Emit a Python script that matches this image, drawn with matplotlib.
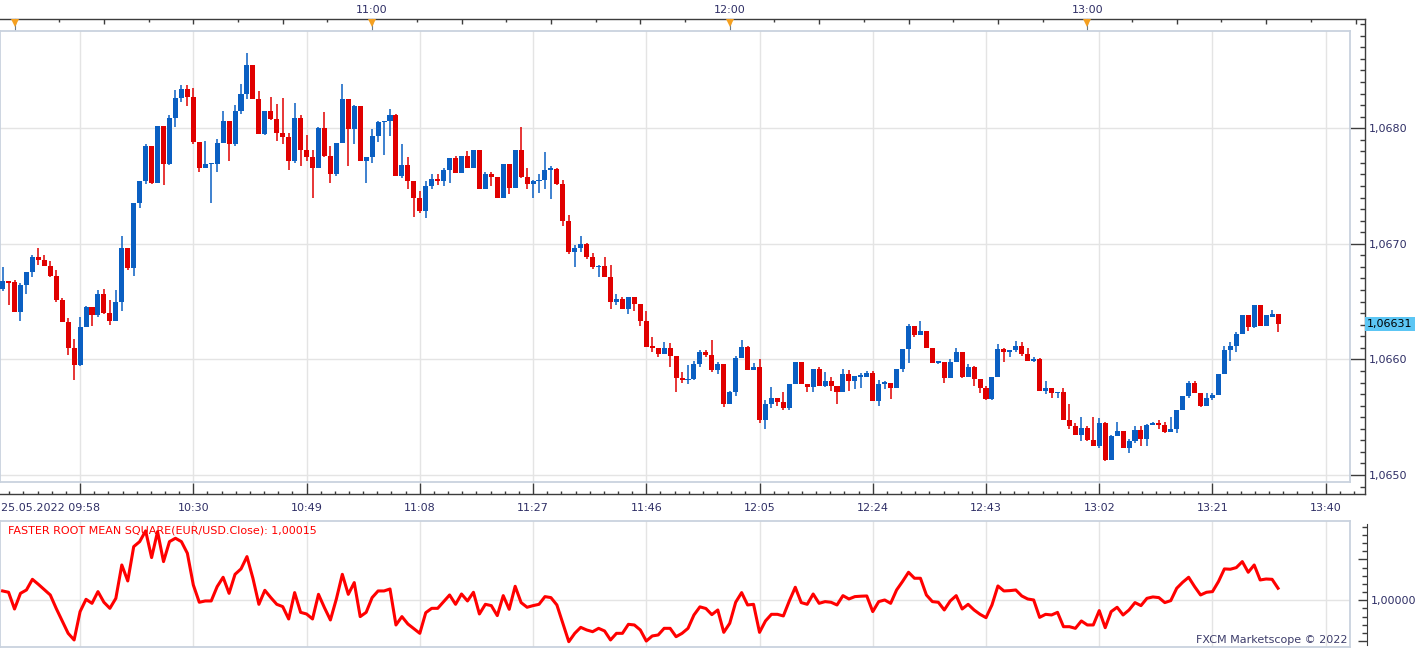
import matplotlib
matplotlib.use("Agg")
import matplotlib.pyplot as plt
import matplotlib.transforms as mtransforms
from matplotlib.ticker import FixedLocator, MultipleLocator, FuncFormatter, NullFormatter
import numpy as np

# ---------------- data (EUR/USD 1-minute bars, 25.05.2022 09:58 ... 13:32) ----------------
opens = [
    1.06661, 1.06668, 1.06667, 1.06641, 1.06664, 1.06676, 1.06689, 1.06686, 1.06681, 1.06672,
    1.06651, 1.06632, 1.06610, 1.06595, 1.06628, 1.06645, 1.06638, 1.06657, 1.06640, 1.06633,
    1.06650, 1.06696, 1.06679, 1.06735, 1.06754, 1.06785, 1.06753, 1.06802, 1.06769, 1.06809,
    1.06826, 1.06834, 1.06827, 1.06788, 1.06766, 1.06769, 1.06769, 1.06787, 1.06806, 1.06786,
    1.06815, 1.06830, 1.06855, 1.06825, 1.06795, 1.06815, 1.06808, 1.06796, 1.06792, 1.06772,
    1.06809, 1.06781, 1.06775, 1.06766, 1.06800, 1.06776, 1.06760, 1.06787, 1.06825, 1.06799,
    1.06819, 1.06772, 1.06775, 1.06793, 1.06805, 1.06806, 1.06811, 1.06759, 1.06768, 1.06754,
    1.06740, 1.06728, 1.06750, 1.06756, 1.06754, 1.06764, 1.06774, 1.06761, 1.06776, 1.06766,
    1.06781, 1.06747, 1.06760, 1.06758, 1.06740, 1.06769, 1.06748, 1.06781, 1.06758, 1.06752,
    1.06754, 1.06755, 1.06764, 1.06765, 1.06752, 1.06720, 1.06693, 1.06696, 1.06700, 1.06689,
    1.06680, 1.06681, 1.06671, 1.06650, 1.06652, 1.06644, 1.06654, 1.06648, 1.06633, 1.06611,
    1.06610, 1.06605, 1.06610, 1.06603, 1.06584, 1.06582, 1.06583, 1.06596, 1.06606, 1.06604,
    1.06591, 1.06596, 1.06561, 1.06572, 1.06601, 1.06611, 1.06591, 1.06593, 1.06548, 1.06561,
    1.06567, 1.06563, 1.06558, 1.06579, 1.06598, 1.06579, 1.06576, 1.06592, 1.06577, 1.06581,
    1.06577, 1.06572, 1.06587, 1.06581, 1.06585, 1.06585, 1.06588, 1.06564, 1.06579, 1.06580,
    1.06575, 1.06592, 1.06609, 1.06629, 1.06621, 1.06625, 1.06610, 1.06597, 1.06598, 1.06584,
    1.06598, 1.06606, 1.06585, 1.06593, 1.06583, 1.06575, 1.06566, 1.06585, 1.06609, 1.06606,
    1.06608, 1.06612, 1.06605, 1.06599, 1.06600, 1.06573, 1.06575, 1.06571, 1.06572, 1.06548,
    1.06542, 1.06535, 1.06541, 1.06530, 1.06525, 1.06545, 1.06513, 1.06534, 1.06538, 1.06523,
    1.06529, 1.06539, 1.06531, 1.06543, 1.06545, 1.06543, 1.06537, 1.06540, 1.06556, 1.06568,
    1.06580, 1.06571, 1.06560, 1.06567, 1.06569, 1.06587, 1.06608, 1.06612, 1.06622, 1.06638,
    1.06628, 1.06647, 1.06629, 1.06637, 1.06639,
]
highs = [
    1.06680, 1.06668, 1.06669, 1.06666, 1.06676, 1.06690, 1.06696, 1.06690, 1.06685, 1.06677,
    1.06653, 1.06636, 1.06618, 1.06637, 1.06646, 1.06645, 1.06660, 1.06661, 1.06651, 1.06660,
    1.06707, 1.06696, 1.06735, 1.06754, 1.06786, 1.06785, 1.06802, 1.06802, 1.06811, 1.06833,
    1.06837, 1.06837, 1.06835, 1.06788, 1.06789, 1.06770, 1.06791, 1.06815, 1.06806, 1.06820,
    1.06838, 1.06865, 1.06855, 1.06832, 1.06815, 1.06827, 1.06821, 1.06826, 1.06796, 1.06822,
    1.06811, 1.06794, 1.06781, 1.06801, 1.06814, 1.06785, 1.06787, 1.06838, 1.06825, 1.06820,
    1.06819, 1.06775, 1.06799, 1.06806, 1.06806, 1.06817, 1.06812, 1.06786, 1.06775, 1.06754,
    1.06746, 1.06754, 1.06760, 1.06760, 1.06766, 1.06774, 1.06776, 1.06776, 1.06780, 1.06781,
    1.06781, 1.06762, 1.06762, 1.06758, 1.06769, 1.06769, 1.06781, 1.06801, 1.06766, 1.06755,
    1.06760, 1.06779, 1.06767, 1.06766, 1.06755, 1.06725, 1.06699, 1.06707, 1.06701, 1.06692,
    1.06682, 1.06689, 1.06682, 1.06657, 1.06654, 1.06654, 1.06654, 1.06648, 1.06642, 1.06619,
    1.06610, 1.06615, 1.06614, 1.06603, 1.06589, 1.06595, 1.06599, 1.06608, 1.06608, 1.06617,
    1.06598, 1.06596, 1.06573, 1.06603, 1.06617, 1.06612, 1.06597, 1.06600, 1.06565, 1.06576,
    1.06567, 1.06572, 1.06579, 1.06598, 1.06598, 1.06579, 1.06592, 1.06593, 1.06589, 1.06585,
    1.06577, 1.06592, 1.06591, 1.06586, 1.06588, 1.06590, 1.06590, 1.06582, 1.06581, 1.06580,
    1.06592, 1.06609, 1.06631, 1.06629, 1.06633, 1.06625, 1.06610, 1.06598, 1.06598, 1.06600,
    1.06610, 1.06606, 1.06596, 1.06594, 1.06583, 1.06577, 1.06585, 1.06613, 1.06610, 1.06608,
    1.06616, 1.06615, 1.06610, 1.06602, 1.06601, 1.06581, 1.06575, 1.06572, 1.06575, 1.06561,
    1.06545, 1.06550, 1.06542, 1.06550, 1.06549, 1.06546, 1.06535, 1.06546, 1.06538, 1.06531,
    1.06542, 1.06542, 1.06544, 1.06546, 1.06548, 1.06546, 1.06550, 1.06556, 1.06568, 1.06581,
    1.06581, 1.06571, 1.06571, 1.06571, 1.06587, 1.06612, 1.06615, 1.06624, 1.06638, 1.06638,
    1.06647, 1.06647, 1.06638, 1.06643, 1.06639,
]
lows = [
    1.06659, 1.06647, 1.06641, 1.06633, 1.06657, 1.06671, 1.06682, 1.06681, 1.06671, 1.06650,
    1.06632, 1.06604, 1.06582, 1.06594, 1.06628, 1.06629, 1.06637, 1.06639, 1.06630, 1.06633,
    1.06642, 1.06677, 1.06672, 1.06731, 1.06752, 1.06752, 1.06753, 1.06751, 1.06768, 1.06801,
    1.06823, 1.06819, 1.06786, 1.06762, 1.06766, 1.06735, 1.06762, 1.06787, 1.06772, 1.06785,
    1.06812, 1.06825, 1.06825, 1.06795, 1.06794, 1.06807, 1.06789, 1.06786, 1.06764, 1.06770,
    1.06767, 1.06772, 1.06740, 1.06766, 1.06775, 1.06753, 1.06759, 1.06787, 1.06767, 1.06786,
    1.06772, 1.06753, 1.06770, 1.06788, 1.06777, 1.06793, 1.06759, 1.06757, 1.06747, 1.06723,
    1.06727, 1.06722, 1.06747, 1.06751, 1.06750, 1.06753, 1.06761, 1.06761, 1.06766, 1.06766,
    1.06747, 1.06747, 1.06750, 1.06740, 1.06740, 1.06743, 1.06748, 1.06757, 1.06747, 1.06740,
    1.06744, 1.06747, 1.06739, 1.06751, 1.06715, 1.06691, 1.06680, 1.06693, 1.06687, 1.06678,
    1.06671, 1.06671, 1.06644, 1.06647, 1.06644, 1.06639, 1.06642, 1.06629, 1.06611, 1.06606,
    1.06602, 1.06605, 1.06593, 1.06572, 1.06580, 1.06579, 1.06582, 1.06593, 1.06602, 1.06589,
    1.06587, 1.06559, 1.06561, 1.06568, 1.06601, 1.06591, 1.06591, 1.06545, 1.06540, 1.06558,
    1.06560, 1.06556, 1.06556, 1.06579, 1.06579, 1.06572, 1.06572, 1.06577, 1.06576, 1.06573,
    1.06561, 1.06572, 1.06573, 1.06574, 1.06575, 1.06585, 1.06564, 1.06560, 1.06574, 1.06566,
    1.06575, 1.06589, 1.06597, 1.06619, 1.06621, 1.06610, 1.06597, 1.06596, 1.06580, 1.06584,
    1.06598, 1.06584, 1.06585, 1.06577, 1.06571, 1.06565, 1.06565, 1.06585, 1.06598, 1.06602,
    1.06606, 1.06603, 1.06599, 1.06598, 1.06573, 1.06570, 1.06567, 1.06567, 1.06548, 1.06540,
    1.06535, 1.06529, 1.06529, 1.06525, 1.06523, 1.06512, 1.06513, 1.06534, 1.06523, 1.06519,
    1.06528, 1.06525, 1.06525, 1.06543, 1.06540, 1.06536, 1.06537, 1.06536, 1.06556, 1.06567,
    1.06571, 1.06559, 1.06560, 1.06565, 1.06569, 1.06587, 1.06599, 1.06606, 1.06622, 1.06625,
    1.06627, 1.06629, 1.06629, 1.06637, 1.06624,
]
closes = [
    1.06668, 1.06666, 1.06641, 1.06664, 1.06676, 1.06689, 1.06686, 1.06681, 1.06672, 1.06651,
    1.06632, 1.06610, 1.06595, 1.06628, 1.06645, 1.06638, 1.06657, 1.06640, 1.06633, 1.06650,
    1.06696, 1.06679, 1.06735, 1.06754, 1.06785, 1.06753, 1.06802, 1.06769, 1.06809, 1.06826,
    1.06834, 1.06827, 1.06788, 1.06766, 1.06769, 1.06770, 1.06787, 1.06806, 1.06786, 1.06815,
    1.06830, 1.06855, 1.06825, 1.06795, 1.06815, 1.06808, 1.06796, 1.06792, 1.06772, 1.06809,
    1.06781, 1.06775, 1.06766, 1.06800, 1.06776, 1.06760, 1.06787, 1.06825, 1.06799, 1.06819,
    1.06772, 1.06775, 1.06793, 1.06805, 1.06806, 1.06811, 1.06759, 1.06768, 1.06754, 1.06740,
    1.06728, 1.06750, 1.06756, 1.06754, 1.06764, 1.06774, 1.06761, 1.06776, 1.06766, 1.06781,
    1.06747, 1.06760, 1.06758, 1.06740, 1.06769, 1.06748, 1.06781, 1.06758, 1.06752, 1.06754,
    1.06755, 1.06764, 1.06765, 1.06752, 1.06720, 1.06693, 1.06696, 1.06700, 1.06689, 1.06680,
    1.06681, 1.06671, 1.06650, 1.06652, 1.06644, 1.06654, 1.06648, 1.06633, 1.06611, 1.06610,
    1.06605, 1.06610, 1.06603, 1.06584, 1.06582, 1.06583, 1.06596, 1.06606, 1.06604, 1.06591,
    1.06596, 1.06561, 1.06572, 1.06601, 1.06611, 1.06591, 1.06593, 1.06548, 1.06561, 1.06567,
    1.06563, 1.06558, 1.06579, 1.06598, 1.06579, 1.06576, 1.06592, 1.06577, 1.06581, 1.06577,
    1.06572, 1.06587, 1.06581, 1.06586, 1.06586, 1.06588, 1.06564, 1.06579, 1.06580, 1.06575,
    1.06592, 1.06609, 1.06629, 1.06621, 1.06625, 1.06610, 1.06597, 1.06598, 1.06584, 1.06598,
    1.06606, 1.06585, 1.06593, 1.06583, 1.06575, 1.06566, 1.06585, 1.06609, 1.06606, 1.06608,
    1.06612, 1.06605, 1.06599, 1.06600, 1.06573, 1.06575, 1.06571, 1.06572, 1.06548, 1.06542,
    1.06535, 1.06541, 1.06530, 1.06525, 1.06545, 1.06513, 1.06534, 1.06538, 1.06523, 1.06529,
    1.06539, 1.06531, 1.06543, 1.06545, 1.06543, 1.06537, 1.06540, 1.06556, 1.06568, 1.06580,
    1.06571, 1.06560, 1.06567, 1.06569, 1.06587, 1.06608, 1.06612, 1.06622, 1.06638, 1.06628,
    1.06647, 1.06629, 1.06638, 1.06639, 1.06631,
]
rms = [
    1.000114, 1.000098, 0.999894, 1.000085, 1.000126, 1.000256, 1.000195, 1.000130, 1.000065, 0.999900,
    0.999750, 0.999597, 0.999516, 0.999862, 1.000012, 0.999963, 1.000106, 0.999976, 0.999902, 1.000024,
    1.000431, 1.000236, 1.000655, 1.000716, 1.000847, 1.000521, 1.000838, 1.000472, 1.000716, 1.000757,
    1.000716, 1.000574, 1.000187, 0.999976, 0.999992, 0.999992, 1.000167, 1.000281, 1.000085, 1.000317,
    1.000383, 1.000533, 1.000269, 0.999951, 1.000122, 1.000033, 0.999951, 0.999923, 0.999772, 1.000094,
    0.999853, 0.999833, 0.999772, 1.000073, 0.999910, 0.999760, 1.000016, 1.000317, 1.000073, 1.000216,
    0.999801, 0.999853, 1.000033, 1.000114, 1.000114, 1.000138, 0.999699, 0.999801, 0.999711, 0.999654,
    0.999597, 0.999849, 0.999902, 0.999902, 0.999984, 1.000065, 0.999951, 1.000077, 0.999992, 1.000098,
    0.999833, 0.999951, 0.999935, 0.999813, 1.000057, 0.999890, 1.000171, 0.999972, 0.999915, 0.999935,
    0.999951, 1.000045, 1.000033, 0.999943, 0.999720, 0.999495, 0.999597, 0.999670, 0.999638, 0.999617,
    0.999658, 0.999626, 0.999516, 0.999597, 0.999597, 0.999707, 0.999699, 0.999638, 0.999503, 0.999565,
    0.999577, 0.999658, 0.999658, 0.999556, 0.999597, 0.999658, 0.999821, 0.999920, 0.999900, 0.999825,
    0.999882, 0.999609, 0.999719, 0.999976, 1.000094, 0.999943, 0.999951, 0.999609, 0.999748, 0.999829,
    0.999829, 0.999809, 0.999992, 1.000159, 0.999972, 0.999951, 1.000077, 0.999963, 0.999984, 0.999976,
    0.999943, 1.000057, 1.000016, 1.000045, 1.000050, 1.000053, 0.999862, 0.999984, 1.000004, 0.999963,
    1.000126, 1.000230, 1.000342, 1.000269, 1.000269, 1.000065, 0.999984, 0.999976, 0.999882, 0.999992,
    1.000057, 0.999894, 0.999951, 0.999882, 0.999829, 0.999788, 0.999943, 1.000175, 1.000114, 1.000118,
    1.000126, 1.000053, 1.000016, 1.000004, 0.999792, 0.999829, 0.999821, 0.999853, 0.999678, 0.999678,
    0.999658, 0.999748, 0.999699, 0.999699, 0.999874, 0.999666, 0.999862, 0.999915, 0.999821, 0.999882,
    0.999972, 0.999935, 1.000024, 1.000041, 1.000033, 0.999972, 0.999996, 1.000147, 1.000220, 1.000281,
    1.000167, 1.000065, 1.000098, 1.000106, 1.000228, 1.000383, 1.000379, 1.000399, 1.000472, 1.000342,
    1.000431, 1.000248, 1.000260, 1.000256, 1.000147,
]

bottom_tick_idx = [13, 32, 51, 70, 89, 108, 127, 146, 165, 184, 203, 222]
bottom_tick_labels = ["25.05.2022 09:58", "10:30", "10:49", "11:08", "11:27", "11:46",
                      "12:05", "12:24", "12:43", "13:02", "13:21", "13:40"]
top_tick_idx = [62, 122, 182]
top_tick_labels = ["11:00", "12:00", "13:00"]
hour_marker_idx = [2, 62, 122, 182]
price_ticks = [1.0650, 1.0660, 1.0670, 1.0680]
last_price = 1.06631
indicator_ticks = [0.9995, 1.0000, 1.0005]
indicator_label = "FASTER ROOT MEAN SQUARE(EUR/USD.Close): 1,00015"
credit = "FXCM Marketscope \u00a9 2022"

# ---------------- styling / layout ----------------
BLUE = "#0a5fc2"
RED = "#e00000"
GRID = "#e4e4e4"
BOX = "#c9d2de"
AXC = "#3c3c3c"
TXT = "#2f2f66"
FS = 8
plt.rcParams["font.family"] = ["DejaVu Sans"]

W, H = 1423, 649
fig = plt.figure(figsize=(W / 100, H / 100), dpi=100)
fig.patch.set_facecolor("white")


def rect(x0, y0, x1, y1):
    return [x0 / W, 1 - y1 / H, (x1 - x0) / W, (y1 - y0) / H]


PX = 5.96      # pixels per bar
X0 = 2.6       # pixel position of the first bar


def xl(width_px):
    return (-X0 / PX, (width_px - X0) / PX)


PPY = 115600.0  # pixels per price unit (main panel)
YREF = 475.0    # pixel row of 1.0650


def pr(ypx):
    return 1.0650 + (YREF - ypx) / PPY


IPY = 81967.0   # pixels per unit (indicator panel)
IREF = 600.3    # pixel row of 1.00000


def iv(ypx):
    return 1.0 + (IREF - ypx) / IPY


PT = 0.72  # points per pixel

# ---------- frame of the main panel (time axes + price axis) ----------
axf = fig.add_axes(rect(0, 19, 1365, 494))
axf.patch.set_visible(False)
axf.set_xlim(*xl(1365))
axf.set_ylim(pr(494), pr(19))
axf.spines["left"].set_visible(False)
for s in ("top", "bottom", "right"):
    axf.spines[s].set_color(AXC)
    axf.spines[s].set_linewidth(1.0)
# bottom time axis
axf.xaxis.set_major_locator(FixedLocator(bottom_tick_idx))
axf.xaxis.set_major_formatter(NullFormatter())
axf.xaxis.set_minor_locator(FixedLocator(list(np.arange(13 - 2.375 * 5, 228, 2.375))))
axf.tick_params(axis="x", which="major", direction="in", length=11 * PT, width=1, color=AXC,
                top=False, bottom=True)
axf.tick_params(axis="x", which="minor", direction="in", length=3.5 * PT, width=1, color=AXC,
                top=False, bottom=True)
xt = axf.get_xaxis_transform()
for i, (k, lab) in enumerate(zip(bottom_tick_idx, bottom_tick_labels)):
    if i == 0:
        axf.text(1 / 1365, -14 / 475, lab, transform=axf.transAxes, ha="left", va="center",
                 fontsize=FS, color=TXT)
    else:
        axf.text(k, -14 / 475, lab, transform=xt, ha="center", va="center",
                 fontsize=FS, color=TXT)
# right price axis
axf.yaxis.tick_right()
axf.yaxis.set_major_locator(FixedLocator(price_ticks))
axf.yaxis.set_minor_locator(MultipleLocator(0.0001))
axf.yaxis.set_major_formatter(FuncFormatter(lambda v, p: f"{v:.4f}".replace(".", ",")))
axf.tick_params(axis="y", which="major", direction="in", length=15 * PT, width=1, color=AXC,
                labelsize=FS, labelcolor=TXT, pad=3, left=False, right=True)
axf.tick_params(axis="y", which="minor", direction="in", length=5 * PT, width=1, color=AXC,
                left=False, right=True)

# top time axis
axt = axf.twiny()
axt.set_xlim(*xl(1365))
for s in axt.spines.values():
    s.set_visible(False)
axt.xaxis.set_major_locator(FixedLocator(list(np.arange(2, 229, 15))))
axt.xaxis.set_minor_locator(FixedLocator(list(np.arange(9.5, 229, 15))))
lab_map = dict(zip(top_tick_idx, top_tick_labels))
axt.xaxis.set_major_formatter(FuncFormatter(lambda v, p: lab_map.get(int(round(v)), "")))
axt.tick_params(axis="x", which="major", direction="in", length=5 * PT, width=1, color=AXC,
                labelsize=FS, labelcolor=TXT, pad=3)
axt.tick_params(axis="x", which="minor", direction="in", length=3 * PT, width=1, color=AXC)
tt = axt.get_xaxis_transform()
for k in hour_marker_idx:
    axt.plot([k, k], [1.0, 1 - 12 / 475], color="#6a7a8a", lw=0.8, transform=tt, clip_on=False)
axt.plot(hour_marker_idx, [1 - 3.5 / 475] * len(hour_marker_idx), linestyle="none", marker="v",
         markersize=6, color="#f5a020", markeredgewidth=0, transform=tt, clip_on=False)

# last price box
bt = mtransforms.blended_transform_factory(axf.transAxes, axf.transData)
axf.text(1367 / 1365, last_price, f"{last_price:.5f}".replace(".", ","), transform=bt,
         ha="left", va="center", fontsize=FS, color="black",
         bbox=dict(boxstyle="square,pad=0.18", facecolor="#5cc6f4", edgecolor="none"))

# ---------- main candlestick panel ----------
ax = fig.add_axes(rect(0, 31, 1350, 482))
ax.set_xlim(*xl(1350))
ax.set_ylim(pr(482), pr(31))
for s in ax.spines.values():
    s.set_color(BOX)
    s.set_linewidth(1.3)
ax.set_xticks([])
ax.set_yticks([])
for k in bottom_tick_idx:
    ax.axvline(k, color=GRID, lw=1.0, zorder=0)
for p in price_ticks:
    ax.axhline(p, color=GRID, lw=1.0, zorder=0)

idx = np.arange(len(closes))
o = np.array(opens)
c = np.array(closes)
h = np.array(highs)
l = np.array(lows)
colors = np.where(c >= o, BLUE, RED)
ax.vlines(idx, l, h, colors=colors, lw=1.1, zorder=2)
body_bottom = np.minimum(o, c)
body_h = np.maximum(np.abs(c - o), 0.000012)
ax.bar(idx, body_h, bottom=body_bottom, width=0.84, color=colors, linewidth=0, zorder=3)

# ---------- indicator panel ----------
axif = fig.add_axes(rect(0, 521, 1367, 647))
axif.patch.set_visible(False)
axif.set_xlim(*xl(1367))
axif.set_ylim(iv(647), iv(521))
for s in ("left", "top", "bottom"):
    axif.spines[s].set_visible(False)
axif.spines["right"].set_color(AXC)
axif.spines["right"].set_bounds(iv(645), iv(524))
axif.set_xticks([])
axif.yaxis.tick_right()
axif.yaxis.set_major_locator(FixedLocator(indicator_ticks))
axif.yaxis.set_minor_locator(MultipleLocator(0.0001))
axif.yaxis.set_major_formatter(FuncFormatter(lambda v, p: "1,00000" if abs(v - 1.0) < 1e-9 else ""))
axif.tick_params(axis="y", which="major", direction="in", length=9 * PT, width=1, color=AXC,
                 labelsize=FS, labelcolor=TXT, pad=3)
axif.tick_params(axis="y", which="minor", direction="in", length=5 * PT, width=1, color=AXC)

axi = fig.add_axes(rect(0, 521, 1350, 647))
axi.set_xlim(*xl(1350))
axi.set_ylim(iv(647), iv(521))
for s in axi.spines.values():
    s.set_color(BOX)
    s.set_linewidth(1.3)
axi.set_xticks([])
axi.set_yticks([])
for k in bottom_tick_idx:
    axi.axvline(k, color=GRID, lw=1.0, zorder=0)
axi.axhline(1.0, color=GRID, lw=1.0, zorder=0)
axi.plot(np.arange(len(rms)), rms, color="#ff0000", lw=2.2, solid_joinstyle="round", zorder=3)
axi.text(8 / 1350, 1 - 9.5 / 126, indicator_label, transform=axi.transAxes, ha="left",
         va="center", fontsize=FS, color="#ff0000", zorder=4)
axi.text(1348 / 1350, 1 - 119 / 126, credit, transform=axi.transAxes, ha="right",
         va="center", fontsize=FS, color="#3d3d6b", zorder=4)

fig.savefig("out.png", dpi=100, facecolor="white")
